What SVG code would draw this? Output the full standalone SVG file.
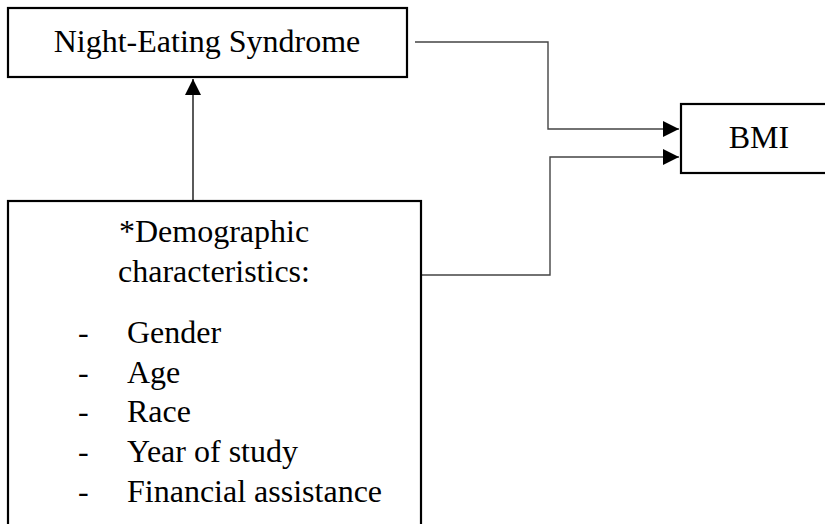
<svg xmlns="http://www.w3.org/2000/svg" width="825" height="524" viewBox="0 0 825 524">
<style>
.box{fill:#fff;stroke:#000;stroke-width:2.2}
.t{font-family:'Liberation Serif','Times New Roman','DejaVu Serif',serif;font-size:32px;fill:#000}
.c{fill:none;stroke:#444;stroke-width:1.4}
</style>
<defs>
<marker id="ah" markerUnits="userSpaceOnUse" markerWidth="17" markerHeight="16" refX="16" refY="8" orient="auto">
<path d="M0,0 L16,8 L0,16 Z" fill="#000"/>
</marker>
</defs>
<rect width="825" height="524" fill="#fff"/>
<g id="connectors">
<path class="c" d="M415,42 H548 V129 H679" marker-end="url(#ah)"/>
<path class="c" d="M422,275 H550 V157 H679" marker-end="url(#ah)"/>
<path d="M193,200 V79" fill="none" stroke="#000" stroke-width="1.3" marker-end="url(#ah)"/>
</g>
<g id="nes">
<rect class="box" x="8" y="8" width="399" height="69"/>
<text class="t" x="207" y="52" text-anchor="middle" font-family="Liberation Serif, serif">Night-Eating Syndrome</text>
</g>
<g id="bmi">
<rect class="box" x="681" y="104" width="160" height="69"/>
<text class="t" x="759" y="148" text-anchor="middle">BMI</text>
</g>
<g id="demographics">
<rect class="box" x="8" y="201" width="413" height="340"/>
<text class="t" x="214" y="242" text-anchor="middle">*Demographic</text>
<text class="t" x="214" y="282" text-anchor="middle">characteristics:</text>
<text class="t" x="78" y="343">-</text><text class="t" x="127" y="343">Gender</text>
<text class="t" x="78" y="383">-</text><text class="t" x="127" y="383">Age</text>
<text class="t" x="78" y="422">-</text><text class="t" x="127" y="422">Race</text>
<text class="t" x="78" y="462">-</text><text class="t" x="127" y="462">Year of study</text>
<text class="t" x="78" y="502">-</text><text class="t" x="127" y="502">Financial assistance</text>
</g>
</svg>
